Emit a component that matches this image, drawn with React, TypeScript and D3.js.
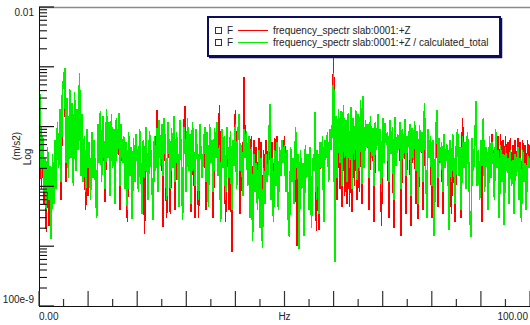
import React from 'react';
import * as d3 from 'd3';

// ---------- data (values in µm/s², i.e. ×1e-6 m/s²), sampled every 0.25 Hz from 0 to 100 Hz ----------
const greenUm = [
  30, 350, 14, 70, 8, 30, 4, 45, 6, 22, 1.3, 35, 5, 60, 9,
  120, 20, 200, 12, 350, 650, 950, 25, 300, 14, 420, 30, 250, 10, 380, 18, 200, 40, 780, 15, 160,
  12, 70, 8, 90, 20, 55, 6, 80, 14, 60, 10, 3, 110, 25, 180, 12, 150, 40, 9, 200, 30, 120, 7, 160, 20, 90, 5, 140, 35, 170, 10, 110,
  25, 70, 9, 55, 4, 80, 15, 45, 2.8, 65, 12, 75, 30, 8, 90, 20, 3.5, 60, 14, 100, 25, 6, 85, 40, 11, 2.7, 70, 18, 95, 8, 130, 22,
  110, 15, 140, 30, 6, 120, 45, 9, 95, 20, 150, 12, 80, 35, 4.5, 130, 25, 2.7, 100, 50, 8, 140, 18, 75, 5, 120, 40, 10, 90, 28, 6, 110, 35, 14,
  40, 100, 12, 80, 4.5, 110, 25, 60, 8, 95, 30, 120, 15, 50, 2.5, 90, 20, 70, 6, 100, 35, 14, 85, 4, 60, 22, 110, 9, 75, 160, 18, 50, 7, 90,
  30, 85, 10, 70, 3, 45, 1.2, 35, 8, 25, 4, 40, 2, 30, 0.95, 20, 5, 35, 12, 28, 240, 6, 30, 2.5, 40, 10, 55, 4, 45, 15, 60,
  25, 50, 8, 40, 3, 1.4, 45, 12, 30, 5, 100, 20, 35, 0.9, 40, 9, 25, 1.5, 50, 14, 35, 4, 45, 2, 30, 18, 175, 6, 40, 3.5, 55, 20, 70, 2.5, 60, 30, 80, 12, 90, 40, 110,
  800, 0.55, 150, 14, 200, 25, 180, 10, 230, 30, 130, 12, 170, 20, 210, 9, 140, 28, 190, 13, 160, 18, 280, 11,
  330, 20, 130, 45, 110, 14, 150, 30, 95, 10, 120, 40, 160, 18, 90, 8, 140, 25, 115, 50, 80, 12, 130, 35, 100, 6, 145, 22, 75, 40,
  120, 9, 90, 30, 135, 15, 70, 45, 110, 7, 95, 28, 125, 18, 85, 5, 105, 38, 80, 12, 250, 20, 3, 90, 30, 70, 10, 60, 1.5, 45,
  190, 14, 65, 25, 55, 8, 75, 20, 50,
  40, 1.9, 60, 12, 75, 25, 5, 50, 90, 15, 45, 4, 70, 20, 55, 9, 80, 30, 3, 1.4, 65, 18, 50, 270, 10, 40, 6, 60, 22, 140,
  8, 45, 35, 4, 70, 14, 55, 28, 6, 90, 20, 40, 3, 50, 12, 35, 2.3, 45, 18, 30, 5, 40, 10, 28, 3.5, 35, 15, 45, 6, 30,
  2.5, 40, 12, 25, 4, 35, 20, 30,
];

const redUm = [
  30, 350, 9, 70, 5, 30, 1.7, 45, 2.2, 22, 1.3, 35, 5, 60, 9,
  120, 20, 200, 6, 350, 650, 950, 12, 300, 14, 420, 30, 250, 10, 380, 18, 200, 40, 780, 15, 160,
  12, 70, 4, 90, 7, 55, 6, 80, 14, 60, 10, 3, 110, 25, 180, 12, 150, 40, 5.5, 200, 30, 120, 7, 160, 20, 90, 5, 140, 35, 170, 4, 110,
  25, 70, 9, 55, 2.5, 80, 15, 45, 2.8, 65, 12, 75, 30, 8, 90, 20, 3.5, 60, 1.6, 100, 25, 6, 85, 40, 11, 2.7, 70, 18, 190, 8, 130, 22,
  110, 2.1, 140, 30, 3, 120, 45, 3.5, 95, 20, 150, 4, 80, 35, 4.5, 130, 25, 2.7, 100, 220, 8, 140, 18, 75, 3.8, 120, 40, 3, 90, 28, 3, 110, 35, 14,
  40, 100, 4, 80, 4.5, 110, 25, 60, 3, 95, 30, 120, 15, 230, 2.5, 90, 20, 70, 2.5, 100, 35, 4, 85, 0.8, 60, 22, 190, 9, 75, 160, 3.5, 50, 7, 670,
  30, 85, 10, 70, 3, 70, 1.2, 60, 8, 45, 4, 65, 2, 55, 0.95, 40, 5, 60, 12, 50, 90, 6, 55, 2.5, 65, 10, 70, 4, 45, 15, 60,
  25, 70, 8, 40, 3, 1.4, 45, 12, 30, 5, 100, 1.0, 35, 0.9, 40, 9, 25, 1.5, 50, 14, 35, 4, 45, 2, 30, 18, 175, 1.8, 40, 1.9, 55, 20, 70, 2.5, 60, 30, 80, 12, 90, 40, 110,
  1400, 0.55, 150, 6, 200, 9, 180, 4.5, 230, 7, 130, 5, 170, 4.5, 210, 3.8, 140, 10, 190, 6, 160, 8, 280, 5,
  330, 20, 130, 45, 110, 4, 150, 30, 95, 2.5, 120, 40, 160, 18, 90, 2.2, 140, 25, 115, 50, 80, 3, 130, 35, 100, 2, 145, 22, 75, 40,
  120, 1.5, 90, 30, 135, 3.5, 70, 45, 110, 2.2, 95, 28, 125, 5, 85, 2.8, 105, 38, 80, 4, 250, 20, 3, 90, 30, 70, 3, 60, 1.5, 45,
  190, 4.5, 65, 25, 55, 3.5, 75, 20, 50,
  40, 1.9, 60, 3.5, 75, 25, 2.5, 50, 90, 15, 45, 3, 140, 20, 55, 9, 80, 30, 3, 1.4, 65, 18, 50, 270, 10, 40, 6, 60, 2.5, 140,
  8, 45, 35, 4, 70, 14, 75, 28, 6, 90, 20, 70, 3, 75, 12, 60, 2.3, 70, 18, 55, 5, 65, 10, 50, 3.5, 60, 15, 65, 6, 55,
  2.5, 60, 12, 50, 4, 60, 20, 50,
];

const seriesNames = [
  'frequency_spectr slab:0001:+Z',
  'frequency_spectr slab:0001:+Z / calculated_total',
];
const seriesColors = ['#ff0000', '#00f000'];
const freqDomain = [0, 100];
const ampDomain = [1e-7, 1e-2];
const xMajorTicks = [0, 10, 20, 30, 40, 50, 60, 70, 80, 90, 100];
const xMinorTicks = [5, 15, 25, 35, 45, 55, 65, 75, 85, 95];
const decades = [-7, -6, -5, -4, -3, -2];
const minorMultipliers = [2, 3, 4, 5, 6, 7, 8, 9];
const yLabelTop = '0.01';
const yLabelBottom = '100e-9';
const xLabels = ['0.00', 'Hz', '100.00'];
const yTitle = ['(m/s2)', 'Log'];
const legendPrefix = 'F';

const FONT = '"Liberation Sans", Arial, Helvetica, sans-serif';

export default function App() {
  const W = 530, H = 325;
  const left = 39, right = 530, top = 7, bottom = 306;
  const x = d3.scaleLinear().domain(freqDomain).range([left, right]);
  const y = d3.scaleLog().domain(ampDomain).range([bottom, top]);

  const mkLine = (arr: number[]) => {
    const df = (freqDomain[1] - freqDomain[0]) / (arr.length - 1);
    return d3
      .line<number>()
      .x((_, i) => x(freqDomain[0] + i * df))
      .y((v) => y(v * 1e-6))(arr) as string;
  };

  const minorY: number[] = [];
  decades.slice(0, -1).forEach((e) => minorMultipliers.forEach((m) => minorY.push(m * Math.pow(10, e))));

  const legX = 208, legY = 17, legW = 292, legH = 39;
  const rowY = [30, 42];

  return (
    <svg width={W} height={H} style={{ position: 'fixed', left: 0, top: 0, background: '#fff' }} fontFamily={FONT}>
      <defs>
        <clipPath id="plotclip">
          <rect x={left} y={top} width={right - left} height={bottom - top} />
        </clipPath>
      </defs>
      <rect x={0} y={0} width={W} height={H} fill="#fff" />
      {/* top border */}
      <line x1={left} x2={right} y1={top + 0.5} y2={top + 0.5} stroke="#8a8a8a" strokeWidth={1.5} />
      {/* data */}
      <g clipPath="url(#plotclip)" fill="none" strokeLinejoin="miter" shapeRendering="crispEdges">
        <path d={mkLine(redUm)} stroke={seriesColors[0]} strokeWidth={1.6} />
        <path d={mkLine(greenUm)} stroke={seriesColors[1]} strokeWidth={1.6} />
      </g>
      {/* y axis */}
      <line x1={left + 0.5} x2={left + 0.5} y1={top} y2={bottom} stroke="#111" strokeWidth={1} />
      {decades.map((e) => (
        <line key={'M' + e} x1={left} x2={left + 15} y1={y(Math.pow(10, e))} y2={y(Math.pow(10, e))} stroke="#111" strokeWidth={1.2} />
      ))}
      {minorY.map((v, i) => (
        <line key={'m' + i} x1={left} x2={left + 8} y1={y(v)} y2={y(v)} stroke="#111" strokeWidth={1.1} />
      ))}
      {/* x axis */}
      <line x1={left} x2={right} y1={bottom + 0.5} y2={bottom + 0.5} stroke="#111" strokeWidth={1} />
      {xMajorTicks.map((t) => (
        <line key={'xM' + t} x1={x(t)} x2={x(t)} y1={bottom} y2={bottom - 15} stroke="#333" strokeWidth={1.2} />
      ))}
      {xMinorTicks.map((t) => (
        <line key={'xm' + t} x1={x(t)} x2={x(t)} y1={bottom} y2={bottom - 7} stroke="#333" strokeWidth={1.2} />
      ))}
      {/* tick labels */}
      <g fontSize={10} fill="#222">
        <text x={34} y={16} textAnchor="end">{yLabelTop}</text>
        <text x={34} y={303} textAnchor="end">{yLabelBottom}</text>
        <text x={x(freqDomain[0])} y={320} textAnchor="start">{xLabels[0]}</text>
        <text x={x((freqDomain[0] + freqDomain[1]) / 2)} y={320} textAnchor="middle">{xLabels[1]}</text>
        <text x={528} y={320} textAnchor="end">{xLabels[2]}</text>
        <text transform="translate(20,146) rotate(-90)" textAnchor="middle">{yTitle[0]}</text>
        <text transform="translate(31,157) rotate(-90)" textAnchor="middle">{yTitle[1]}</text>
      </g>
      {/* legend */}
      <g>
        <rect x={legX} y={legY} width={legW} height={legH} fill="#fff" stroke="#0d0d5e" strokeWidth={2} />
        <line x1={legX + legW + 1.5} x2={legX + legW + 1.5} y1={legY + 1} y2={legY + legH + 2} stroke="#0d0d5e" strokeWidth={1.5} />
        <line x1={legX + 1} x2={legX + legW + 2} y1={legY + legH + 1.5} y2={legY + legH + 1.5} stroke="#0d0d5e" strokeWidth={1.5} />
        {seriesNames.map((name, i) => (
          <g key={name}>
            <rect x={215.5} y={rowY[i] - 2.5} width={6} height={6} fill="#fff" stroke="#333" strokeWidth={1} />
            <text x={227} y={rowY[i] + 4} fontSize={10} fill="#222">{legendPrefix}</text>
            <line x1={238} x2={268} y1={rowY[i] + 0.5} y2={rowY[i] + 0.5} stroke={seriesColors[i]} strokeWidth={1} />
            <text x={273} y={rowY[i] + 4} fontSize={10} fill="#222">{name}</text>
          </g>
        ))}
      </g>
    </svg>
  );
}
